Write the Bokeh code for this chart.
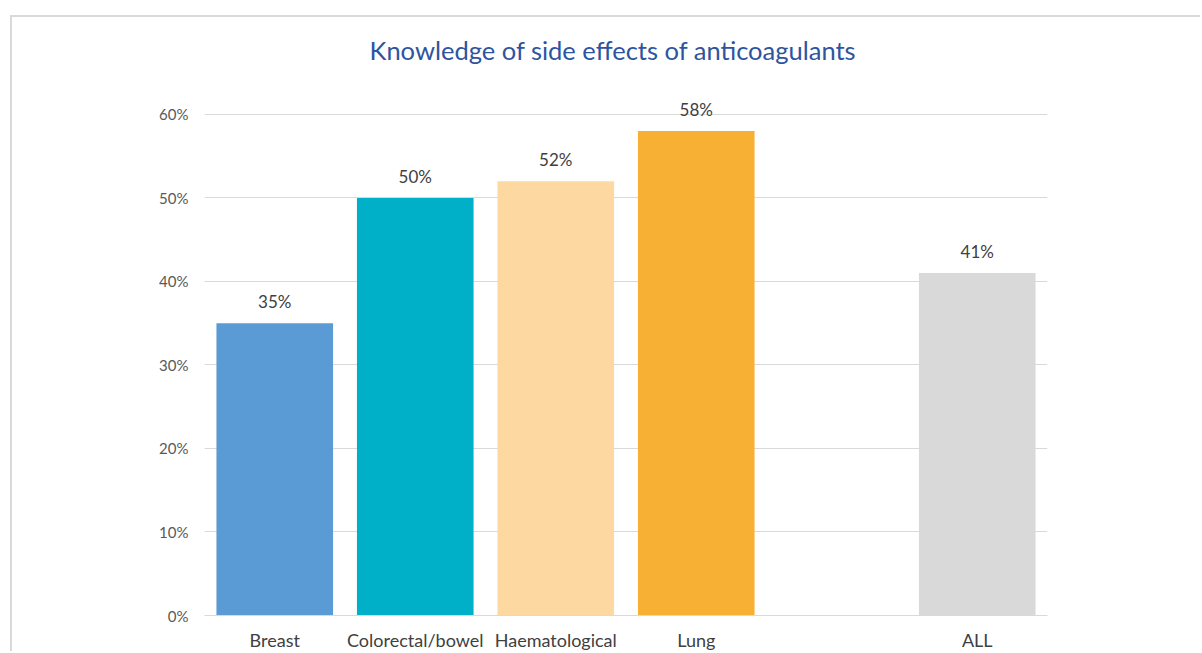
from bokeh.plotting import figure
from bokeh.models import ColumnDataSource, FactorRange, Range1d, FixedTicker, NumeralTickFormatter, LabelSet, Label
from bokeh.core.properties import value
from bokeh.embed import file_html
from bokeh.resources import INLINE

title_text = "Knowledge of side effects of anticoagulants"
categories = ["Breast", "Colorectal/bowel", "Haematological", "Lung", " ", "ALL"]
values = [0.35, 0.50, 0.52, 0.58, 0.0, 0.41]
labels = ["35%", "50%", "52%", "58%", "", "41%"]
colors = ["#5B9BD5", "#00B0C8", "#FDD9A1", "#F7B034", "#FFFFFF", "#D9D9D9"]
y_ticks = [0, 0.1, 0.2, 0.3, 0.4, 0.5, 0.6]

FONT = "Lato"

src = ColumnDataSource(dict(cat=categories, val=values, lab=labels, col=colors))

p = figure(
    width=1190, height=636,
    x_range=FactorRange(*categories, range_padding=0),
    y_range=Range1d(0, 0.716),
    output_backend="svg", toolbar_location=None,
    min_border_left=192, min_border_right=155, min_border_top=0, min_border_bottom=37,
)
p.margin = (15, 0, 0, 10)
p.styles = {"border-top": "2px solid #d9d9d9", "border-left": "2px solid #d9d9d9"}

p.vbar(x="cat", top="val", width=0.83, fill_color="col", line_color=None, source=src)

p.add_layout(LabelSet(x="cat", y="val", text="lab", source=src, text_align="center",
                      text_baseline="bottom", y_offset=11, text_font=value(FONT),
                      text_font_size=value("17px"), text_color=value("#404040")))

# chart title, positioned in screen units relative to the plot frame
p.add_layout(Label(x=165, y=566, x_units="screen", y_units="screen", text=title_text,
                   text_font=FONT, text_font_size="25.5px", text_color="#2E54A0",
                   text_baseline="alphabetic", text_align="left"))

p.yaxis.ticker = FixedTicker(ticks=y_ticks)
p.yaxis.formatter = NumeralTickFormatter(format="0%")
p.yaxis.axis_line_color = None
p.yaxis.major_tick_line_color = None
p.yaxis.major_tick_out = 0
p.yaxis.minor_tick_line_color = None
p.yaxis.major_label_text_font = FONT
p.yaxis.major_label_text_font_size = "15px"
p.yaxis.major_label_text_color = "#595959"
p.yaxis.major_label_standoff = 16

p.xaxis.axis_line_color = "#d9d9d9"
p.xaxis.axis_line_width = 1
p.xaxis.major_tick_line_color = None
p.xaxis.minor_tick_line_color = None
p.xaxis.major_label_text_font = FONT
p.xaxis.major_label_text_font_size = "18px"
p.xaxis.major_label_text_color = "#404040"
p.xaxis.major_label_standoff = 7

p.xgrid.grid_line_color = None
p.ygrid.ticker = FixedTicker(ticks=y_ticks)
p.ygrid.grid_line_color = "#d9d9d9"
p.ygrid.grid_line_width = 1
p.outline_line_color = None
p.background_fill_color = "white"
p.border_fill_color = "white"

open("out.html", "w").write(file_html(p, INLINE))
